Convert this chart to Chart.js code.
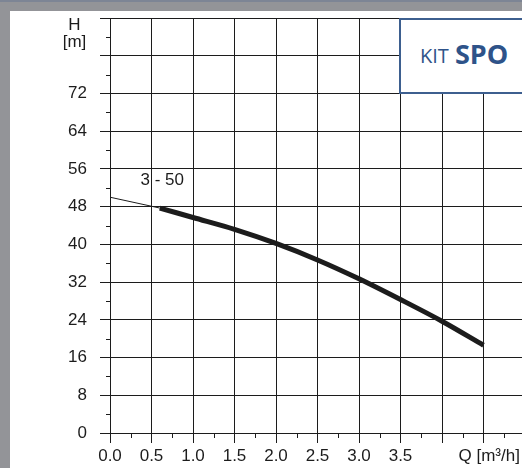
<!DOCTYPE html>
<html>
<head>
<meta charset="utf-8">
<script src="https://cdn.jsdelivr.net/npm/chart.js@4/dist/chart.umd.min.js"></script>
<style>
  html, body { margin: 0; padding: 0; }
  body {
    width: 522px; height: 468px; overflow: hidden; position: relative;
    background: #939498; border-top: 2px solid #7d8595; box-sizing: border-box;
  }
  #sheet {
    position: absolute; left: 10px; top: 9px; width: 520px; height: 459px;
    background: #fff; overflow: hidden;
  }
  #chart { position: absolute; left: 0; top: 0; }
  #kit {
    position: absolute; left: 389px; top: 7px; width: 140px; height: 72px;
    border: 2px solid #3d5f8f; background: #fff;
    font-family: "Open Sans", sans-serif; color: #2e5389;
  }
  #kit .k { position: absolute; left: 19px; top: 22px; font-size: 20px; }
  #kit .s { position: absolute; left: 54px; top: 15px; font-size: 27px; font-weight: bold; }
</style>
</head>
<body>
<div id="sheet">
  <canvas id="chart" width="520" height="457"></canvas>
  <div id="kit"><span class="k">KIT</span><span class="s">SPO</span></div>
</div>
<script>
// Q [m3/h] and H [m]
const thinQ = [0, 0.6];
const thinH = [50, 47.7];
const curveQ = [0.6, 1.0, 1.5, 2.0, 2.5, 3.0, 3.5, 4.0, 4.5];
const curveH = [47.7, 45.7, 43.2, 40.2, 36.7, 32.7, 28.3, 23.7, 18.6];

const xTicks = [0, 0.5, 1, 1.5, 2, 2.5, 3, 3.5, 4, 4.5, 5];
const xLabels = ["0.0", "0.5", "1.0", "1.5", "2.0", "2.5", "3.0", "3.5", "", "", ""];
const xMinorTicks = [0.25, 0.75, 1.25, 1.75, 2.25, 2.75, 3.25, 3.75, 4.25, 4.75];
const yTicks = [0, 8, 16, 24, 32, 40, 48, 56, 64, 72, 80, 88];
const yLabels = ["0", "8", "16", "24", "32", "40", "48", "56", "64", "72", "", ""];
const yMinorTicks = [4, 12, 20, 28, 36, 44, 52, 60, 68, 76, 84];

const curveName = "3 - 50";
const yTitle = ["H", "[m]"];
const xTitle = "Q [m³/h]";

const ink = "#1c1c1c";
const font = { family: "'Liberation Sans', Arial, sans-serif", size: 17 };

// minor ticks + free text
const extras = {
  id: "extras",
  afterDraw(chart) {
    const { ctx, chartArea, scales: { x, y } } = chart;
    ctx.save();
    ctx.strokeStyle = ink;
    ctx.lineWidth = 1;
    ctx.beginPath();
    yMinorTicks.forEach(v => {
      const py = Math.round(y.getPixelForValue(v)) + 0.5;
      ctx.moveTo(chartArea.left - 4, py);
      ctx.lineTo(chartArea.left, py);
    });
    xMinorTicks.forEach(v => {
      const px = Math.round(x.getPixelForValue(v)) + 0.5;
      ctx.moveTo(px, chartArea.bottom);
      ctx.lineTo(px, chartArea.bottom + 5);
    });
    ctx.stroke();

    ctx.fillStyle = ink;
    ctx.font = `${font.size}px ${font.family}`;
    ctx.textBaseline = "middle";
    ctx.textAlign = "center";
    const top = y.getPixelForValue(88);
    ctx.fillText(yTitle[0], 64.5, top + 7);
    ctx.fillText(yTitle[1], 64.5, top + 24);
    ctx.fillText(curveName, x.getPixelForValue(0.63), y.getPixelForValue(53.5));
    ctx.textAlign = "left";
    ctx.fillText(xTitle, x.getPixelForValue(4.5) - 25, chartArea.bottom + 23);
    ctx.restore();
  }
};

new Chart(document.getElementById("chart"), {
  type: "line",
  data: {
    datasets: [
      {
        data: thinQ.map((q, i) => ({ x: q, y: thinH[i] })),
        borderColor: ink, borderWidth: 1, pointRadius: 0
      },
      {
        data: curveQ.map((q, i) => ({ x: q, y: curveH[i] })),
        borderColor: ink, borderWidth: 5, pointRadius: 0,
        cubicInterpolationMode: "monotone", borderCapStyle: "butt"
      }
    ]
  },
  options: {
    responsive: false,
    animation: false,
    layout: { padding: { top: 7, right: 5, left: 0, bottom: 0 } },
    plugins: { legend: { display: false }, tooltip: { enabled: false } },
    scales: {
      x: {
        type: "linear", min: 0, max: 5,
        afterBuildTicks: s => { s.ticks = xTicks.map(v => ({ value: v })); },
        afterFit: s => { s.height = 35; s.paddingLeft = 0; s.paddingRight = 0; },
        grid: { color: ink, lineWidth: 1, tickLength: 10, tickColor: ink },
        border: { color: ink, width: 1 },
        ticks: {
          autoSkip: false, maxRotation: 0, padding: 3, color: ink, font,
          callback: (v, i) => xLabels[i]
        }
      },
      y: {
        type: "linear", min: 0, max: 88,
        afterBuildTicks: s => { s.ticks = yTicks.map(v => ({ value: v })); },
        afterFit: s => { s.width = 100; s.paddingTop = 0; s.paddingBottom = 0; },
        grid: { color: ink, lineWidth: 1, tickLength: 10, tickColor: ink },
        border: { color: ink, width: 1 },
        ticks: {
          autoSkip: false, padding: 13, color: ink, font,
          callback: (v, i) => yLabels[i]
        }
      }
    }
  },
  plugins: [extras]
});
</script>
</body>
</html>
